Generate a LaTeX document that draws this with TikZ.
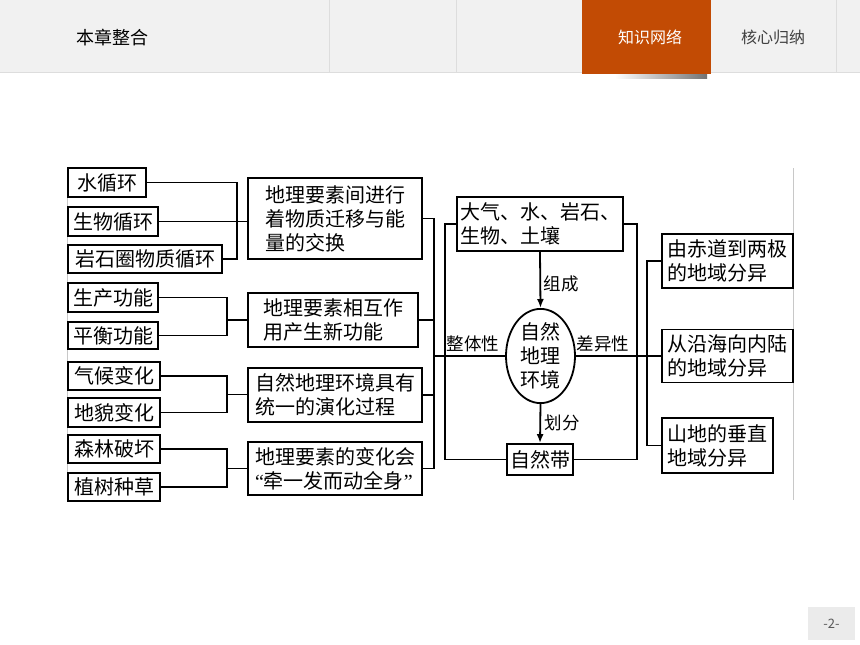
\documentclass[tikz,border=0pt]{standalone}
\usepackage{fontspec}
\setmainfont{Noto Sans CJK SC}
\newfontfamily\qfont{Liberation Serif}
\usetikzlibrary{shapes.geometric,arrows.meta}
\definecolor{hdrgray}{HTML}{F1F1F1}
\definecolor{hdrline}{HTML}{DDDDDD}
\definecolor{tabor}{HTML}{C24B04}
\definecolor{pggray}{HTML}{EBEBEB}
\definecolor{edgegray}{HTML}{C8C8C8}
\newcommand{\dgfont}{\fontsize{20}{24}\selectfont}
\newcommand{\lbfont}{\fontsize{17.5}{20}\selectfont}
\begin{document}
\begin{tikzpicture}[x=1pt,y=-1pt,
  box/.style={draw, line width=1.8pt, inner sep=0pt, font=\dgfont, align=left},
  wire/.style={line width=1.8pt},
  arr/.style={line width=1.8pt, -{Latex[length=9pt,width=7pt]}},
  lab/.style={font=\lbfont, inner sep=0pt}]
\useasboundingbox (0,0) rectangle (860,645);
\fill[white] (0,0) rectangle (860,645);
% header
\fill[hdrgray] (0,0) rectangle (860,72);
\draw[hdrline, line width=1pt] (0,72) -- (860,72);
\foreach \xx in {329,456,836} \draw[hdrline, line width=0.8pt] (\xx,0) -- (\xx,72);
\shade[left color=white, right color=black!55] (615,73) rectangle (707,78);
\fill[tabor] (582,0) rectangle (711,74);
\node[font=\fontsize{18}{18}\selectfont, text=black] (title) at (112,38) {本章整合};
\node[font=\fontsize{16}{16}\selectfont, text=white] (tab1) at (650,37) {知识网络};
\node[font=\fontsize{16}{16}\selectfont, text=black!75] (tab2) at (773,37) {核心归纳};
% page number
\fill[pggray] (808,607) rectangle (855,640);
\node[font=\fontsize{13}{13}\selectfont, text=black!65] (pg) at (831.5,623.5) {-2-};
% frame edges of the figure
\draw[edgegray, line width=0.8pt] (67,168) -- (67,500);
\draw[edgegray, line width=0.8pt] (793,168) -- (793,500);
% left column
\node[box, minimum width=78pt, minimum height=29pt] (l1) at (107,182.5) {水循环};
\node[box, minimum width=90pt, minimum height=29pt] (l2) at (113,221.5) {生物循环};
\node[box, minimum width=154pt, minimum height=28pt] (l3) at (145,259) {岩石圈物质循环};
\node[box, minimum width=90pt, minimum height=29pt] (l4) at (113,297.5) {生产功能};
\node[box, minimum width=90pt, minimum height=27pt] (l5) at (113,335.5) {平衡功能};
\node[box, minimum width=92pt, minimum height=28pt] (l6) at (114,376) {气候变化};
\node[box, minimum width=92pt, minimum height=29pt] (l7) at (114,412.5) {地貌变化};
\node[box, minimum width=92pt, minimum height=28pt] (l8) at (114,449) {森林破坏};
\node[box, minimum width=92pt, minimum height=28pt] (l9) at (114,487) {植树种草};
% second column
\node[box, minimum width=174pt, minimum height=81pt] (b1) at (335,218.5) {地理要素间进行\\着物质迁移与能\\量的交换};
\node[box, minimum width=170pt, minimum height=54pt] (b2) at (333,320) {地理要素相互作\\用产生新功能};
\node[box, minimum width=174pt, minimum height=54pt] (b3) at (335,395) {自然地理环境具有\\统一的演化过程};
\node[box, minimum width=174pt, minimum height=53pt] (b4) at (335,468.5) {地理要素的变化会\\{\qfont “}牵一发而动全身{\qfont ”}};
% centre
\node[box, minimum width=166pt, minimum height=54pt] (top) at (540,224) {大气、水、岩石、\\生物、土壤};
\node[draw, ellipse, line width=1.8pt, inner sep=0pt, font=\dgfont, align=center,
      minimum width=69pt, minimum height=88pt] (env) at (540.5,356) {自然\\地理\\环境};
\node[box, minimum width=66pt, minimum height=31pt] (band) at (540,459.5) {自然带};
% right column
\node[box, minimum width=131pt, minimum height=54pt] (r1) at (727.5,261) {由赤道到两极\\的地域分异};
\node[box, minimum width=131pt, minimum height=53pt] (r2) at (727.5,356) {从沿海向内陆\\的地域分异};
\node[box, minimum width=111pt, minimum height=55pt] (r3) at (717.5,445.5) {山地的垂直\\地域分异};
% labels
\node[lab] (t_zc) at (561,284) {组成};
\node[lab] (t_hf) at (562,423) {划分};
\node[lab] (t_zt) at (473,344) {整体性};
\node[lab] (t_cy) at (603,344) {差异性};
% brackets left
\coordinate (k1) at (237,221.5);
\coordinate (k2) at (227,320);
\coordinate (k3) at (227,394.5);
\coordinate (k4) at (227,468.5);
\draw[wire] (l1.east) -| (k1) |- (l3.east);
\draw[wire] (l2.east) -- (l2.east -| b1.west);
\draw[wire] (l4.east) -| (k2) |- (l5.east);
\draw[wire] (k2) -- (k2 -| b2.west);
\draw[wire] (l6.east) -| (k3) |- (l7.east);
\draw[wire] (k3) -- (k3 -| b3.west);
\draw[wire] (l8.east) -| (k4) |- (l9.east);
\draw[wire] (k4) -- (k4 -| b4.west);
% trunk
\coordinate (t1) at (434,356);
\draw[wire] (b1.east) -| (t1) |- (b4.east);
\draw[wire] (b2.east) -- (b2.east -| t1);
\draw[wire] (b3.east) -- (b3.east -| t1);
\draw[wire] (t1) -- (env.west);
% inner frame
\coordinate (il) at (445,459.5);
\coordinate (ir) at (637,459.5);
\draw[wire] (top.west) -| (il) -- (band.west);
\draw[wire] (top.east) -| (ir) -- (band.east);
\draw[arr] (top.south) -- (env.north);
\draw[arr] (env.south) -- (band.north);
% right
\coordinate (rt) at (647,356);
\draw[wire] (env.east) -- (r2.west);
\draw[wire] (r1.west) -| (rt) |- (r3.west);
\end{tikzpicture}
\end{document}
